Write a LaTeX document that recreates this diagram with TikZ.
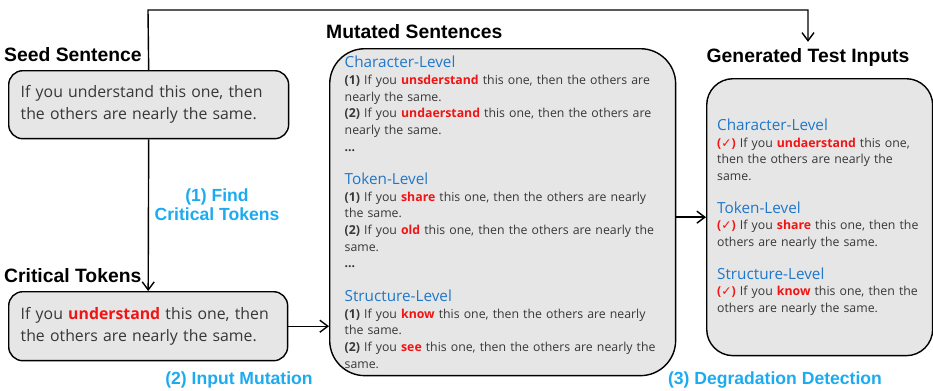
\documentclass[tikz,border=0pt]{standalone}
\usepackage{fontspec}
\setmainfont{Open Sans}
\newfontfamily\headfont{Liberation Sans}
\newfontfamily\symfont{DejaVu Sans}
\usetikzlibrary{arrows, arrows.meta}
\usetikzlibrary{calc}

\definecolor{boxgray}{RGB}{230,230,230}
\definecolor{bodygray}{RGB}{55,55,55}
\definecolor{lvlblue}{RGB}{31,119,200}
\definecolor{stepcyan}{RGB}{28,170,240}
\definecolor{mutred}{RGB}{240,20,20}

\newcommand{\mutword}[1]{\textcolor{mutred}{\bfseries #1}}
\newcommand{\lvltitle}[1]{{\color{lvlblue}\fontsize{8.7}{9.5}\selectfont #1}}
\newcommand{\itemno}[1]{\textbf{(#1)}}
\newcommand{\okmark}{\textcolor{mutred}{\textbf{(}{\symfont\bfseries ✓}\textbf{)}}}

\tikzset{
    sentbox/.style={draw, line width=0.8pt, fill=boxgray, rounded corners=8pt, anchor=north west,
        align=left, inner xsep=12pt*0.567, text=bodygray, font=\fontsize{9}{12.5}\selectfont},
    listbox/.style={draw, line width=0.8pt, fill=boxgray, anchor=north west,
        align=left, text=bodygray, font=\fontsize{7}{9.5}\selectfont},
    heading/.style={font=\headfont\bfseries\fontsize{11}{13}\selectfont},
    steplabel/.style={text=stepcyan, align=center, font=\headfont\bfseries\fontsize{10}{11}\selectfont},
    flow/.style={line width=0.8pt, -{Straight Barb[length=1.6mm, width=2.4mm]}}
}

\begin{document}
\begin{tikzpicture}[x=0.02cm, y=-0.02cm]
    \useasboundingbox (0,0) rectangle (933,390);

    % left column
    \node[heading, anchor=west] (seedhead) at (-2,55) {Seed Sentence};
    \node[sentbox, minimum width=5.6cm, minimum height=1.36cm, text width=5.12cm] (seed) at (8,70)
        {If you understand this one, then\\the others are nearly the same.};
    \node[heading, anchor=west] (crithead) at (-2,276) {Critical Tokens};
    \node[sentbox, minimum width=5.58cm, minimum height=1.38cm, text width=5.1cm] (crit) at (8,291)
        {If you \mutword{understand} this one, then\\the others are nearly the same.};

    % middle column
    \node[heading, anchor=west] (muthead) at (320,32) {Mutated Sentences};
    \node[listbox, rounded corners=20pt, minimum width=6.92cm, minimum height=6.54cm,
        text width=6.32cm, inner xsep=15pt*0.567] (mut) at (329,48)
        {\lvltitle{Character-Level}\\
         \itemno{1} If you \mutword{unsderstand} this one, then the others are\\
         nearly the same.\\
         \itemno{2} If you \mutword{undaerstand} this one, then the others are\\
         nearly the same.\\
         \textbf{...}\\[9.5pt]
         \lvltitle{Token-Level}\\
         \itemno{1} If you \mutword{share} this one, then the others are nearly\\
         the same.\\
         \itemno{2} If you \mutword{old} this one, then the others are nearly the\\
         same.\\
         \textbf{...}\\[9.5pt]
         \lvltitle{Structure-Level}\\
         \itemno{1} If you \mutword{know} this one, then the others are nearly\\
         the same.\\
         \itemno{2} If you \mutword{see} this one, then the others are nearly the\\
         same.};

    % right column
    \node[heading] (genhead) at (808,57) {Generated Test Inputs};
    \node[listbox, rounded corners=15pt, minimum width=4.52cm, minimum height=5.54cm,
        text width=4.1cm, inner xsep=0.21cm] (gen) at (706,78)
        {\lvltitle{Character-Level}\\
         \okmark{} If you \mutword{undaerstand} this one,\\
         then the others are nearly the\\
         same.\\[9pt]
         \lvltitle{Token-Level}\\
         \okmark{} If you \mutword{share} this one, then the\\
         others are nearly the same.\\[9pt]
         \lvltitle{Structure-Level}\\
         \okmark{} If you \mutword{know} this one, then the\\
         others are nearly the same.};

    % step labels
    \node[steplabel] (findlbl) at (217,205) {(1) Find\\Critical Tokens};
    \node[steplabel] (mutlbl) at (239,380) {(2) Input Mutation};
    \node[steplabel] (detlbl) at (775,380) {(3) Degradation Detection};

    % connectors
    \coordinate (topbend) at (148,10);
    \draw[flow] (seed.north) -- (topbend) -| (genhead.north);
    \draw[flow] (seed.south) -- (crit.north);
    \draw[flow] (crit.east) -- (crit.east -| mut.west);
    \draw[flow] (gen.west -| mut.east) -- (gen.west);
\end{tikzpicture}
\end{document}
